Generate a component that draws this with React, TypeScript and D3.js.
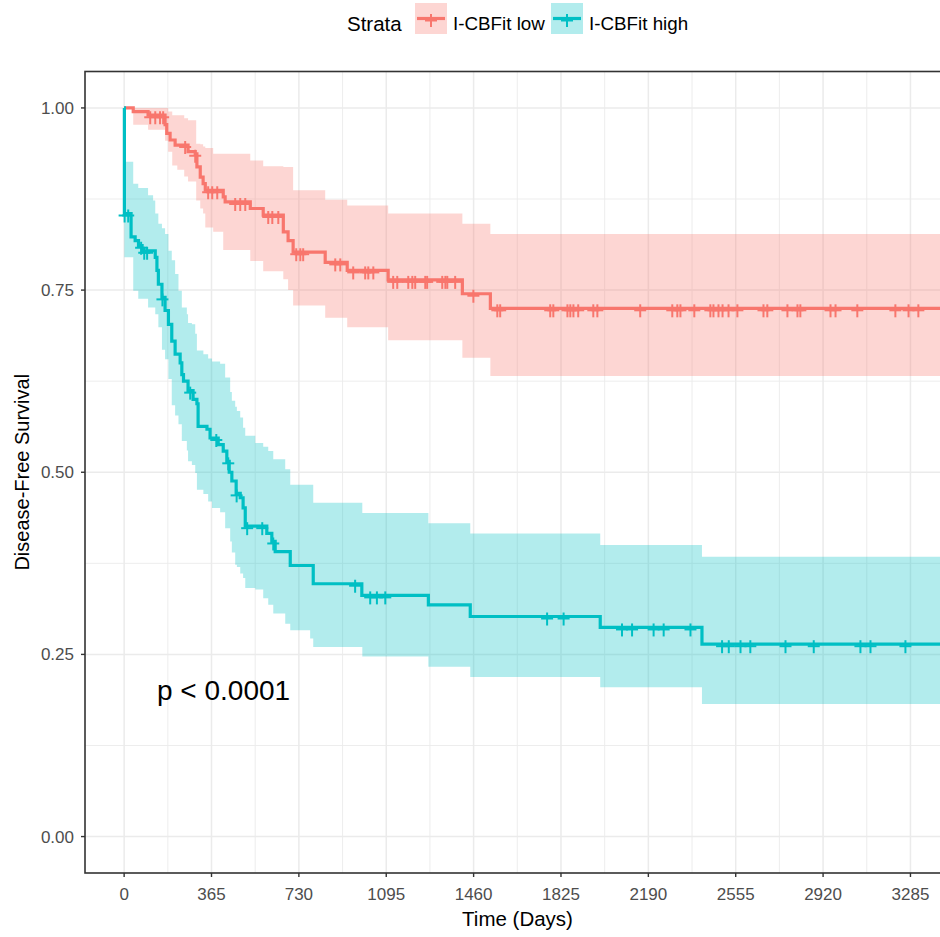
import React from 'react';
import * as d3 from 'd3';

const X_TICKS = [0, 365, 730, 1095, 1460, 1825, 2190, 2555, 2920, 3285];
const Y_TICKS = [0, 0.25, 0.5, 0.75, 1];
const Y_LABELS = ['0.00', '0.25', '0.50', '0.75', '1.00'];
const X_MAX = 3270;
const X_END = 3500;

// I-CBFit low: survival step curve
const LOW_T = [0, 38, 100, 171, 178, 192, 213, 267, 297, 304, 318, 330, 339, 414, 422, 527, 581, 665, 685, 706, 840, 932, 1103, 1413, 1530];
const LOW_S = [1, 0.995, 0.99, 0.977, 0.965, 0.956, 0.949, 0.94, 0.937, 0.919, 0.905, 0.896, 0.887, 0.878, 0.871, 0.862, 0.853, 0.83, 0.818, 0.802, 0.788, 0.777, 0.764, 0.745, 0.725];
// I-CBFit low: confidence band
const LOW_BT = [0, 38, 100, 171, 184, 201, 222, 251, 267, 301, 318, 330, 339, 372, 414, 527, 581, 665, 685, 706, 840, 932, 1103, 1413, 1530];
const LOW_UP = [1, 1, 1, 1, 0.995, 0.99, 0.99, 0.986, 0.983, 0.951, 0.95, 0.947, 0.945, 0.937, 0.937, 0.928, 0.92, 0.919, 0.919, 0.887, 0.874, 0.866, 0.855, 0.841, 0.827];
const LOW_LO = [1, 0.977, 0.97, 0.955, 0.94, 0.921, 0.915, 0.906, 0.899, 0.873, 0.862, 0.855, 0.836, 0.83, 0.805, 0.79, 0.776, 0.765, 0.75, 0.729, 0.712, 0.699, 0.681, 0.657, 0.632];
const LOW_CENSOR = [109, 130, 150, 163, 255, 297, 351, 368, 389, 464, 485, 506, 602, 619, 644, 719, 736, 748, 882, 903, 957, 1007, 1020, 1041, 1124, 1141, 1187, 1204, 1216, 1258, 1266, 1329, 1342, 1350, 1383, 1459, 1559, 1571, 1780, 1793, 1852, 1864, 1877, 1897, 1960, 1977, 2156, 2290, 2311, 2324, 2382, 2449, 2462, 2483, 2500, 2525, 2562, 2671, 2687, 2771, 2813, 2825, 2951, 2972, 3063, 3222, 3277, 3318];

// I-CBFit high
const HIGH_T = [0, 1, 29, 46, 60, 75, 130, 137, 143, 158, 171, 185, 199, 213, 234, 241, 248, 267, 288, 304, 309, 346, 359, 393, 414, 429, 439, 450, 468, 485, 497, 506, 596, 617, 631, 694, 790, 993, 1271, 1446, 1989, 2414];
const HIGH_S = [1, 0.855, 0.823, 0.818, 0.811, 0.804, 0.795, 0.777, 0.758, 0.74, 0.722, 0.703, 0.68, 0.662, 0.65, 0.634, 0.625, 0.612, 0.6, 0.594, 0.563, 0.559, 0.547, 0.538, 0.529, 0.515, 0.5, 0.488, 0.471, 0.465, 0.451, 0.426, 0.416, 0.405, 0.391, 0.372, 0.347, 0.331, 0.318, 0.302, 0.287, 0.264];
const HIGH_BT = [0, 1, 38, 59, 100, 121, 130, 143, 158, 171, 185, 199, 213, 227, 241, 262, 267, 283, 297, 304, 331, 351, 367, 401, 422, 443, 450, 464, 471, 485, 497, 506, 548, 581, 602, 623, 673, 694, 777, 790, 995, 1271, 1446, 1989, 2414];
const HIGH_UP = [1, 0.926, 0.896, 0.89, 0.88, 0.873, 0.855, 0.841, 0.835, 0.827, 0.804, 0.791, 0.772, 0.749, 0.726, 0.717, 0.705, 0.703, 0.69, 0.667, 0.662, 0.656, 0.652, 0.649, 0.63, 0.61, 0.598, 0.59, 0.584, 0.575, 0.561, 0.55, 0.54, 0.535, 0.529, 0.518, 0.504, 0.483, 0.483, 0.458, 0.444, 0.43, 0.416, 0.4, 0.384];
const HIGH_LO = [1, 0.795, 0.749, 0.738, 0.726, 0.726, 0.717, 0.699, 0.668, 0.655, 0.628, 0.592, 0.578, 0.566, 0.543, 0.53, 0.515, 0.51, 0.499, 0.476, 0.47, 0.46, 0.451, 0.445, 0.423, 0.405, 0.39, 0.373, 0.37, 0.361, 0.355, 0.341, 0.339, 0.327, 0.318, 0.306, 0.292, 0.283, 0.272, 0.26, 0.247, 0.233, 0.219, 0.205, 0.182];
const HIGH_CENSOR = [2, 17, 71, 84, 96, 160, 276, 385, 435, 470, 514, 577, 623, 965, 1028, 1056, 1091, 1767, 1836, 2080, 2122, 2212, 2254, 2366, 2498, 2526, 2575, 2616, 2763, 2881, 3076, 3118, 3264];

const RED = '#F8766D';
const TEAL = '#00BFC4';
const FONT = '"Liberation Sans", Arial, Helvetica, sans-serif';

const PANEL = { left: 85, right: 946, top: 71.5, bottom: 873 };

const stepAt = (T: number[], V: number[], t: number) => {
  let v = V[0];
  for (let i = 0; i < T.length; i++) if (T[i] <= t) v = V[i];
  return v;
};

export default function App() {
  const x = d3.scaleLinear().domain([-0.05 * X_MAX, 1.05 * X_MAX]).range([PANEL.left, PANEL.right]);
  const y = d3.scaleLinear().domain([-0.05, 1.05]).range([PANEL.bottom, PANEL.top]);

  const line = d3.line<[number, number]>().curve(d3.curveStepAfter).x((d) => x(d[0])).y((d) => y(d[1]));
  const area = d3
    .area<[number, number, number]>()
    .curve(d3.curveStepAfter)
    .x((d) => x(d[0]))
    .y0((d) => y(d[2]))
    .y1((d) => y(d[1]));

  const series = [
    { name: 'I-CBFit low', color: RED, T: LOW_T, S: LOW_S, BT: LOW_BT, UP: LOW_UP, LO: LOW_LO, C: LOW_CENSOR },
    { name: 'I-CBFit high', color: TEAL, T: HIGH_T, S: HIGH_S, BT: HIGH_BT, UP: HIGH_UP, LO: HIGH_LO, C: HIGH_CENSOR },
  ];

  const xMinor = X_TICKS.map((t) => t + 182.5).concat([-182.5]);
  const yMinor = [0.125, 0.375, 0.625, 0.875];

  const grid = '#EBEBEB';
  const axisCol = '#333333';
  const tickText = '#4D4D4D';

  return (
    <svg width={940} height={937} style={{ position: 'absolute', left: 0, top: 0, background: '#fff' }} fontFamily={FONT}>
      <defs>
        <clipPath id="panel">
          <rect x={PANEL.left} y={PANEL.top} width={PANEL.right - PANEL.left} height={PANEL.bottom - PANEL.top} />
        </clipPath>
      </defs>
      <rect width={940} height={937} fill="#fff" />

      <g clipPath="url(#panel)">
        {/* grid */}
        {xMinor.map((t) => (
          <line key={'xm' + t} x1={x(t)} x2={x(t)} y1={PANEL.top} y2={PANEL.bottom} stroke={grid} strokeWidth={0.9} />
        ))}
        {yMinor.map((t) => (
          <line key={'ym' + t} x1={PANEL.left} x2={PANEL.right} y1={y(t)} y2={y(t)} stroke={grid} strokeWidth={0.9} />
        ))}
        {X_TICKS.map((t) => (
          <line key={'xg' + t} x1={x(t)} x2={x(t)} y1={PANEL.top} y2={PANEL.bottom} stroke={grid} strokeWidth={1.5} />
        ))}
        {Y_TICKS.map((t) => (
          <line key={'yg' + t} x1={PANEL.left} x2={PANEL.right} y1={y(t)} y2={y(t)} stroke={grid} strokeWidth={1.5} />
        ))}

        {/* confidence bands */}
        {series.map((s) => {
          const pts: [number, number, number][] = s.BT.map((t, i) => [t, s.UP[i], s.LO[i]]);
          pts.push([X_END, s.UP[s.UP.length - 1], s.LO[s.LO.length - 1]]);
          return <path key={'b' + s.name} d={area(pts) || ''} fill={s.color} fillOpacity={0.3} stroke="none" />;
        })}

        {/* survival curves */}
        {series.map((s) => {
          const pts: [number, number][] = s.T.map((t, i) => [t, s.S[i]]);
          pts.push([X_END, s.S[s.S.length - 1]]);
          return <path key={'l' + s.name} d={line(pts) || ''} fill="none" stroke={s.color} strokeWidth={3.2} />;
        })}

        {/* censor marks */}
        {series.map((s) =>
          s.C.map((t, i) => {
            const cx = x(t);
            const cy = y(stepAt(s.T, s.S, t));
            return (
              <g key={s.name + 'c' + i} stroke={s.color} strokeWidth={2}>
                <line x1={cx} x2={cx} y1={cy - 4} y2={cy + 9} />
                <line x1={cx - 6} x2={cx + 6} y1={cy + 2} y2={cy + 2} />
              </g>
            );
          })
        )}
      </g>

      {/* panel border */}
      <rect
        x={PANEL.left}
        y={PANEL.top}
        width={PANEL.right - PANEL.left}
        height={PANEL.bottom - PANEL.top}
        fill="none"
        stroke={axisCol}
        strokeWidth={1.6}
      />

      {/* x axis */}
      {X_TICKS.map((t) => (
        <g key={'xt' + t}>
          <line x1={x(t)} x2={x(t)} y1={PANEL.bottom} y2={PANEL.bottom + 4} stroke={axisCol} strokeWidth={1.4} />
          <text x={x(t)} y={900} textAnchor="middle" fontSize={17} fill={tickText}>
            {t}
          </text>
        </g>
      ))}
      <text x={(PANEL.left + PANEL.right) / 2 + 2} y={926} textAnchor="middle" fontSize={20.5} fill="#000">
        Time (Days)
      </text>

      {/* y axis */}
      {Y_TICKS.map((t, i) => (
        <g key={'yt' + t}>
          <line x1={PANEL.left - 4} x2={PANEL.left} y1={y(t)} y2={y(t)} stroke={axisCol} strokeWidth={1.4} />
          <text x={PANEL.left - 11} y={y(t)} dy="0.35em" textAnchor="end" fontSize={17} fill={tickText}>
            {Y_LABELS[i]}
          </text>
        </g>
      ))}
      <text
        transform={`translate(29,${(PANEL.top + PANEL.bottom) / 2}) rotate(-90)`}
        textAnchor="middle"
        fontSize={20}
        fill="#000"
      >
        Disease-Free Survival
      </text>

      {/* p value */}
      <text x={157} y={700} fontSize={28} fill="#000">
        p &lt; 0.0001
      </text>

      {/* legend */}
      <text x={347} y={30.5} fontSize={20.5} fill="#000">
        Strata
      </text>
      {series.map((s, i) => {
        const kx = i === 0 ? 415 : 551;
        return (
          <g key={'lg' + s.name}>
            <rect x={kx} y={3} width={32} height={31} fill={s.color} fillOpacity={0.3} />
            <line x1={kx + 2} x2={kx + 30} y1={18.5} y2={18.5} stroke={s.color} strokeWidth={3.2} />
            <line x1={kx + 16} x2={kx + 16} y1={14} y2={27} stroke={s.color} strokeWidth={2} />
            <line x1={kx + 10} x2={kx + 22} y1={20.5} y2={20.5} stroke={s.color} strokeWidth={2} />
            <text x={kx + 38} y={30} fontSize={18.8} fill="#000">
              {s.name}
            </text>
          </g>
        );
      })}
    </svg>
  );
}
